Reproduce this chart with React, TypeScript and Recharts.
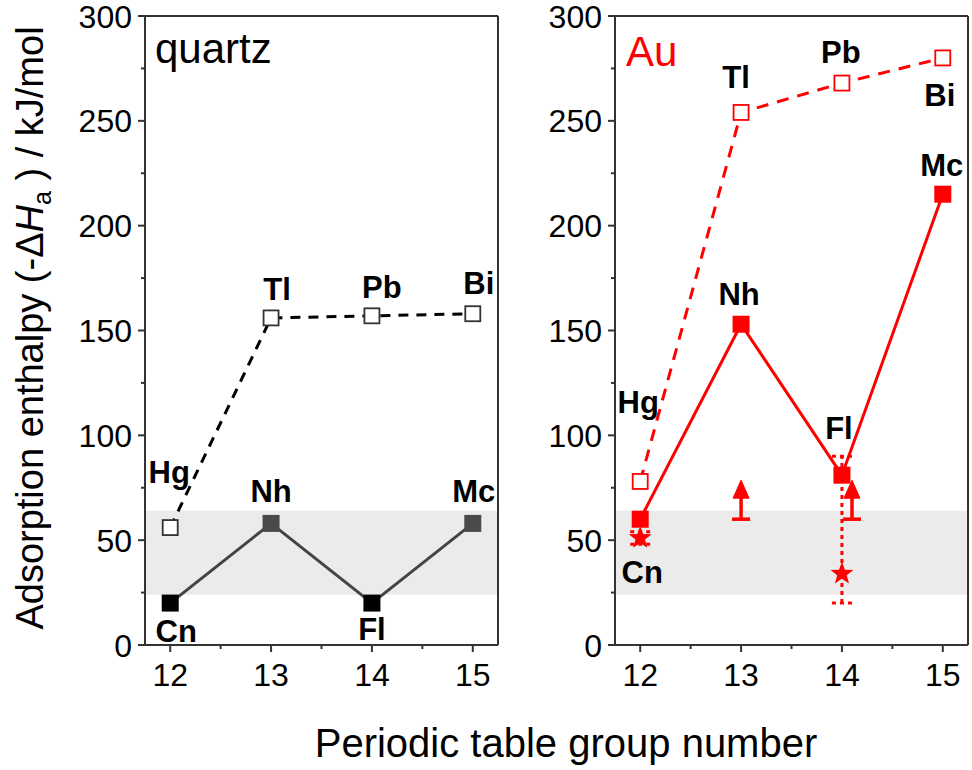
import React from 'react';
import { ComposedChart, Scatter, XAxis, YAxis, ReferenceArea, ReferenceLine, ErrorBar } from 'recharts';

// group numbers on the x axis
const GROUPS = [12, 13, 14, 15];
const X_TICKS = [12, 12.5, 13, 13.5, 14, 14.5, 15];
const Y_TICKS = [0, 25, 50, 75, 100, 125, 150, 175, 200, 225, 250, 275, 300];

// element names
const LIGHT_NAMES = ['Hg', 'Tl', 'Pb', 'Bi'];
const HEAVY_NAMES = ['Cn', 'Nh', 'Fl', 'Mc'];

// quartz surface, -ΔHa in kJ/mol
const QUARTZ_LIGHT = [56, 156, 157, 158];
const QUARTZ_HEAVY = [20, 58, 20, 58];

// gold surface
const AU_LIGHT = [78, 254, 268, 280];
const AU_HEAVY = [60, 153, 81, 215];

// other gold results: stars with error ranges, lower limits
const AU_STAR_X = [12, 14];
const AU_STAR = [51, 34];
const AU_STAR_ERR = [[3, 3], [14, 56]];
const AU_LIMIT_X = [13, 14.1];
const AU_LIMIT = [60, 60];

// shaded band
const BAND = [24, 64];

const X_DOMAIN = [11.75, 15.25];
const FONT = '"Liberation Sans", Arial, sans-serif';
const AXIS = '#333';
const RED = '#ff0000';

// label offsets from the marker centre (px): [dx, dy of baseline]
const QUARTZ_LABELS: Record<string, [number, number]> = {
  Hg: [-1, -45], Tl: [6, -18], Pb: [10, -18], Bi: [6, -20],
  Cn: [6, 39], Nh: [0, -21], Fl: [0, 37], Mc: [1, -21],
};
const AU_LABELS: Record<string, [number, number]> = {
  Hg: [-2, -68], Tl: [-5, -24], Pb: [-1, -20], Bi: [-3, 48],
  Cn: [2, 64], Nh: [-2, -19], Fl: [-3, -36], Mc: [-1, -18],
};

const toPoints = (names: string[], values: number[]) =>
  GROUPS.map((g, i) => ({ x: g, y: values[i], name: names[i] }));

const XTick = (props: any) => {
  const { x, y, payload } = props;
  const major = Number.isInteger(payload.value);
  return (
    <g>
      <line x1={x} x2={x} y1={y} y2={y + (major ? 7 : 4)} stroke={AXIS} strokeWidth={2} />
      {major && (
        <text x={x} y={y + 41} textAnchor="middle" fontSize={32} fontFamily={FONT} fill="#000">
          {payload.value}
        </text>
      )}
    </g>
  );
};

const YTick = (props: any) => {
  const { x, y, payload } = props;
  const major = payload.value % 50 === 0;
  return (
    <g>
      <line x1={x} x2={x - (major ? 7 : 4)} y1={y} y2={y} stroke={AXIS} strokeWidth={2} />
      {major && (
        <text x={x - 13} y={y + 11.5} textAnchor="end" fontSize={32} fontFamily={FONT} fill="#000">
          {payload.value}
        </text>
      )}
    </g>
  );
};

const squareShape = (opts: { fill: (n: string) => string; stroke: string; open?: boolean; labels: Record<string, [number, number]> }) =>
  (props: any) => {
    const { cx, cy, payload } = props;
    const off = opts.labels[payload.name] || [0, -20];
    const s = opts.open ? 15 : 17;
    return (
      <g>
        <rect
          x={cx - s / 2}
          y={cy - s / 2}
          width={s}
          height={s}
          fill={opts.fill(payload.name)}
          stroke={opts.stroke}
          strokeWidth={opts.open ? 1.8 : 0}
        />
        <text
          x={cx + off[0]}
          y={cy + off[1]}
          textAnchor="middle"
          fontSize={31}
          fontWeight="bold"
          fontFamily={FONT}
          fill="#000"
        >
          {payload.name}
        </text>
      </g>
    );
  };

const starShape = (props: any) => {
  const { cx, cy } = props;
  const pts: string[] = [];
  for (let i = 0; i < 10; i++) {
    const r = i % 2 === 0 ? 12 : 5;
    const a = -Math.PI / 2 + (i * Math.PI) / 5;
    pts.push(`${cx + r * Math.cos(a)},${cy + r * Math.sin(a)}`);
  }
  return <polygon points={pts.join(' ')} fill={RED} />;
};

// lower limit: cap at the value with an arrow pointing up
const limitShape = (props: any) => {
  const { cx, cy } = props;
  return (
    <g stroke={RED} strokeWidth={3.5} fill={RED}>
      <line x1={cx - 9} x2={cx + 9} y1={cy} y2={cy} />
      <line x1={cx} x2={cx} y1={cy} y2={cy - 24} />
      <polygon points={`${cx - 8},${cy - 21} ${cx + 8},${cy - 21} ${cx},${cy - 39}`} strokeWidth={1} />
    </g>
  );
};

const Frame = ({ children, width, margin }: { children: React.ReactNode; width: number; margin: any }) => (
  <ComposedChart width={width} height={700} margin={margin}>
    <XAxis
      type="number"
      dataKey="x"
      domain={X_DOMAIN}
      ticks={X_TICKS}
      interval={0}
      tick={<XTick />}
      tickLine={false}
      tickSize={0}
      tickMargin={0}
      axisLine={{ stroke: AXIS, strokeWidth: 2 }}
      height={50}
    />
    <YAxis
      type="number"
      dataKey="y"
      domain={[0, 300]}
      ticks={Y_TICKS}
      interval={0}
      tick={<YTick />}
      tickLine={false}
      tickSize={0}
      tickMargin={0}
      axisLine={{ stroke: AXIS, strokeWidth: 2 }}
      width={60}
    />
    <ReferenceArea y1={BAND[0]} y2={BAND[1]} fill="#ebebeb" fillOpacity={1} stroke="none" />
    <ReferenceLine y={300} stroke={AXIS} strokeWidth={2} />
    <ReferenceLine x={X_DOMAIN[1]} stroke={AXIS} strokeWidth={2} />
    {children}
  </ComposedChart>
);

const QuartzPanel = () => (
  <Frame width={510} margin={{ top: 16, right: 12, bottom: 5, left: 85 }}>
    <Scatter
      data={toPoints(LIGHT_NAMES, QUARTZ_LIGHT)}
      line={{ stroke: '#000', strokeWidth: 3, strokeDasharray: '10 8' }}
      lineType="joint"
      shape={squareShape({ fill: () => '#fff', stroke: '#333', open: true, labels: QUARTZ_LABELS })}
      isAnimationActive={false}
    />
    <Scatter
      data={toPoints(HEAVY_NAMES, QUARTZ_HEAVY)}
      line={{ stroke: '#444', strokeWidth: 3 }}
      lineType="joint"
      shape={squareShape({
        fill: (n) => (n === 'Cn' || n === 'Fl' ? '#000' : '#4a4a4a'),
        stroke: 'none',
        labels: QUARTZ_LABELS,
      })}
      isAnimationActive={false}
    />
  </Frame>
);

const GoldPanel = () => (
  <Frame width={462} margin={{ top: 16, right: 4, bottom: 5, left: 45 }}>
    <Scatter
      data={toPoints(LIGHT_NAMES, AU_LIGHT)}
      line={{ stroke: RED, strokeWidth: 3, strokeDasharray: '12 9' }}
      lineType="joint"
      shape={squareShape({ fill: () => '#fff', stroke: RED, open: true, labels: AU_LABELS })}
      isAnimationActive={false}
    />
    <Scatter
      data={toPoints(HEAVY_NAMES, AU_HEAVY)}
      line={{ stroke: RED, strokeWidth: 3 }}
      lineType="joint"
      shape={squareShape({ fill: () => RED, stroke: 'none', labels: AU_LABELS })}
      isAnimationActive={false}
    />
    <Scatter
      data={AU_STAR_X.map((x, i) => ({ x, y: AU_STAR[i], err: AU_STAR_ERR[i] }))}
      shape={starShape}
      isAnimationActive={false}
    >
      <ErrorBar dataKey="err" direction="y" width={10} stroke={RED} strokeWidth={3} strokeDasharray="4 4" />
    </Scatter>
    <Scatter
      data={AU_LIMIT_X.map((x, i) => ({ x, y: AU_LIMIT[i] }))}
      shape={limitShape}
      isAnimationActive={false}
    />
  </Frame>
);

export default function App() {
  return (
    <div style={{ position: 'absolute', left: 0, top: 0, width: 972, height: 770, background: '#fff' }}>
      <div style={{ position: 'absolute', left: 0, top: 0 }}>
        <QuartzPanel />
      </div>
      <div style={{ position: 'absolute', left: 510, top: 0 }}>
        <GoldPanel />
      </div>
      <svg
        width={972}
        height={770}
        style={{ position: 'absolute', left: 0, top: 0, pointerEvents: 'none' }}
        fontFamily={FONT}
      >
        <text x={155} y={63} fontSize={42} fill="#000">quartz</text>
        <text x={626} y={66} fontSize={42} fill={RED}>Au</text>
        <text x={566} y={757} fontSize={40} textAnchor="middle" fill="#000">
          Periodic table group number
        </text>
        <text transform="translate(43,328) rotate(-90)" fontSize={38} textAnchor="middle" fill="#000">
          <tspan>Adsorption enthalpy (-Δ</tspan>
          <tspan fontStyle="italic">H</tspan>
          <tspan dy={8} fontSize={25}>a</tspan>
          <tspan dy={-8}> ) / kJ/mol</tspan>
        </text>
      </svg>
    </div>
  );
}
